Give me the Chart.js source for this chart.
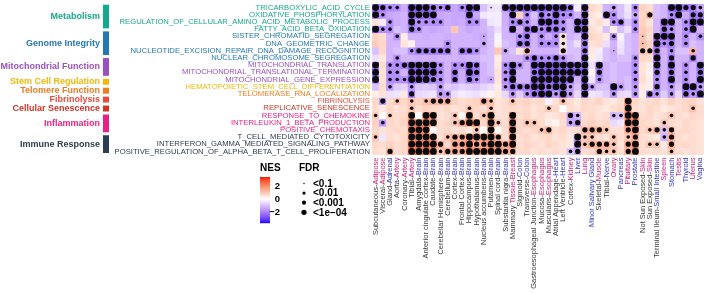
<!DOCTYPE html>
<html>
<head>
<meta charset="utf-8">
<script src="https://cdn.jsdelivr.net/npm/chart.js@4.4.1/dist/chart.umd.min.js"></script>
<style>
  html, body { margin: 0; padding: 0; background: #fff; }
</style>
</head>
<body>
<canvas id="heat" width="708" height="294"></canvas>
<script>
// tissue labels: grey prefix + coloured organ part
var tissuePrefix = ["Subcutaneous-","Visceral-","Gland-","Aorta-","Coronary-","Tibial-","Amygdala-","Anterior cingulate cortex-","Caudate-","Cerebellar Hemisphere-","Cerebellum-","Cortex-","Frontal Cortex-","Hippocampus-","Hypothalamus-","Nucleus accumbens-","Putamen-","Spinal cord-","Substantia nigra-","Mammary ","Sigmoid-","Transverse-","Gastroesophageal Junction-","Mucosa-","Muscularis-","Atrial Appendage-","Left Ventricle-","Cortex-","","","","Skeletal-","Tibial-","","","","","Not Sun Exposed-","Sun Exposed-","Terminal Ileum-","","","","","",""]
var tissueOrgan = ["Adipose","Adipose","Adrenal","Artery","Artery","Artery","Brain","Brain","Brain","Brain","Brain","Brain","Brain","Brain","Brain","Brain","Brain","Brain","Brain","Tissue-Breast","Colon","Colon","Esophagus","Esophagus","Esophagus","Heart","Heart","Kidney","Liver","Lung","Minor Salivary Gland","Muscle","Nerve","Ovary","Pancreas","Pituitary","Prostate","Skin","Skin","Small Intestine","Spleen","Stomach","Testis","Thyroid","Uterus","Vagina"]

var pathways = ["TRICARBOXYLIC_ACID_CYCLE","OXIDATIVE_PHOSPHORYLATION","REGULATION_OF_CELLULAR_AMINO_ACID_METABOLIC_PROCESS","FATTY_ACID_BETA_OXIDATION","SISTER_CHROMATID_SEGREGATION","DNA_GEOMETRIC_CHANGE","NUCLEOTIDE_EXCISION_REPAIR_DNA_DAMAGE_RECOGNITION","NUCLEAR_CHROMOSOME_SEGREGATION","MITOCHONDRIAL_TRANSLATION","MITOCHONDRIAL_TRANSLATIONAL_TERMINATION","MITOCHONDRIAL_GENE_EXPRESSION","HEMATOPOIETIC_STEM_CELL_DIFFERENTIATION","TELOMERASE_RNA_LOCALIZATION","FIBRINOLYSIS","REPLICATIVE_SENESCENCE","RESPONSE_TO_CHEMOKINE","INTERLEUKIN_1_BETA_PRODUCTION","POSITIVE_CHEMOTAXIS","T_CELL_MEDIATED_CYTOTOXICITY","INTERFERON_GAMMA_MEDIATED_SIGNALING_PATHWAY","POSITIVE_REGULATION_OF_ALPHA_BETA_T_CELL_PROLIFERATION"]
var pathwayGroup = [0,0,0,0,1,1,1,1,2,2,2,3,4,5,6,7,7,7,8,8,8]
var groupNames = ["Metabolism","Genome Integrity","Mitochondrial Function","Stem Cell Regulation","Telomere Function","Fibrinolysis","Cellular Senescence","Inflammation","Immune Response"]
var groupColors = ["#16a88f","#2479b3","#9b51bf","#f2b707","#ef7c1f","#ea4c3b","#cf3425","#ea1f87","#2c3e50"]

// NES, one row per pathway, one value per tissue
var nes = [
[-2.4,-2.1,-1.8,-1.8,-1.3,-2.5,-2.6,-2.5,-2.1,-1.8,-2.1,-1.4,-1.8,-2.4,-2.5,-1.0,-0.5,-0.4,-2.1,-2.4,-2.5,-2.6,-2.5,-2.6,-2.4,-2.5,-2.6,-2.1,-0.3,-2.4,0.7,0.5,-1.2,-1.4,-1.0,-0.4,-1.8,0.8,0.6,-1.0,-1.2,-2.4,-2.5,-2.1,-2.1,-1.4],
[-2.4,-1.8,-1.4,-1.3,-1.2,-2.4,-2.5,-2.4,-2.4,-1.4,-1.3,-1.4,-1.4,-2.4,-1.4,-0.4,-0.3,-0.3,-1.3,-2.1,0.8,-1.8,-1.0,-2.1,-1.8,-2.4,-1.8,-1.8,-1.2,-2.4,0.5,0.3,-2.1,-1.8,-1.0,-0.5,-1.4,0.7,1.3,-1.0,-1.2,-1.8,-2.4,-1.3,-2.1,-2.1],
[0.5,-0.3,-1.8,-1.3,-1.2,-2.4,-1.8,-1.8,-1.8,-1.8,-1.3,-1.4,-1.3,-1.8,-1.8,-1.2,-0.4,-0.3,-1.3,-1.8,-2.1,-1.8,-1.2,-2.5,-2.4,-2.1,-1.8,-1.2,-2.4,-2.5,0.4,0.6,0.3,-1.8,-2.1,-1.0,-1.8,0.8,0.5,-1.2,-2.4,-2.4,-1.2,-1.8,-2.5,-2.4],
[-2.4,-1.8,-1.8,-1.0,-1.2,-2.1,-1.8,-1.3,-1.4,-1.3,-1.2,1.0,-1.2,-1.4,-1.3,-1.2,-1.0,-0.5,-1.2,-2.4,-1.2,-2.1,-2.4,-1.8,-2.1,-2.1,-1.8,-1.2,-2.4,-2.4,0.6,0.4,-1.0,0.3,-1.0,-0.5,-1.8,0.9,0.7,-1.2,-2.1,-1.8,-1.2,-1.8,-2.4,-1.2],
[0.8,0.6,-1.2,-1.8,0.3,-1.2,-1.2,-1.3,-1.2,-1.2,-1.3,-1.2,-1.2,-1.2,-1.3,-1.4,-1.0,-0.2,-1.2,-1.2,-1.8,-2.1,-1.2,-1.8,-1.3,-1.8,0.5,-1.2,-1.0,-2.4,0.7,0.6,0.4,-1.8,-0.2,-1.0,-1.2,1.0,0.6,-2.4,-2.4,-2.4,-1.2,-1.8,-1.2,-1.8],
[0.9,0.7,-1.2,-1.2,0.5,0.2,-1.2,-1.2,-1.2,-1.2,-1.8,-1.2,-1.2,-1.2,-1.2,-1.4,-1.0,0.2,-1.0,-1.2,-2.1,-2.1,-1.2,-1.8,-1.8,-1.8,0.4,-1.0,-0.5,-2.1,0.5,0.6,-0.5,-1.2,-0.4,-1.0,-1.2,1.1,0.8,-2.4,-1.8,-2.1,-1.2,-1.8,-1.0,-1.2],
[-1.0,0.7,-1.2,-1.0,-1.0,-1.8,-2.1,-2.1,-2.1,-2.1,-2.1,-1.2,-2.1,-2.1,-1.8,-1.2,-1.0,1.0,-1.4,-1.0,0.5,1.2,-1.2,-1.2,-1.2,-1.2,0.6,-1.0,-1.0,-2.1,0.4,-0.3,-1.0,-1.3,-0.5,-1.0,-1.2,1.0,0.9,-2.1,-1.2,-1.8,-1.0,-1.0,1.3,-1.2],
[-0.5,0.4,-1.2,-1.8,-1.2,-1.2,-1.3,-1.2,-1.3,-1.2,-1.2,-1.2,-1.3,-1.2,-1.2,-1.0,-1.0,0.3,-1.2,-1.2,-1.2,-1.8,-2.1,-1.8,-1.8,-2.1,-1.8,-1.2,-1.0,-2.4,0.3,-0.4,-1.0,-1.2,-1.0,-1.0,-1.8,0.7,0.6,-2.4,-1.2,-2.1,-1.2,-1.2,-2.1,-1.2],
[-2.4,0.6,-1.8,-1.8,-2.1,-2.5,-2.6,-2.5,-2.5,-1.8,-1.2,-1.8,-1.8,-2.5,-2.1,-1.2,-1.0,0.4,-1.8,-2.5,-1.8,-1.2,-2.5,-2.6,-2.6,-2.6,-2.6,-2.5,-2.4,-2.5,-0.5,-2.4,-1.2,-1.0,-1.2,-1.2,-1.8,0.5,0.3,-2.4,-1.2,-2.5,-1.2,-1.8,-1.2,-2.4],
[-2.4,0.5,-1.8,-1.8,-1.2,-2.5,-2.5,-2.5,-2.4,-1.8,-1.2,-2.1,-1.3,-2.5,-2.1,-1.2,-1.0,0.5,-1.8,-2.4,-1.2,-1.2,-2.1,-2.6,-2.6,-2.6,-2.5,-2.5,-2.4,-2.5,0.2,-2.1,-1.2,-1.0,-1.2,-1.2,-1.8,0.5,0.2,-2.1,-1.2,-2.1,-1.2,-1.8,-1.2,-2.1],
[-2.4,0.5,-1.8,-1.8,-1.8,-2.5,-2.5,-2.4,-2.1,-1.8,-1.2,-2.1,-1.3,-2.1,-1.8,-1.2,-1.4,0.5,-1.8,-2.4,-1.2,-1.2,-2.4,-2.5,-2.5,-2.6,-2.5,-2.4,-1.2,-2.5,-0.4,-1.8,-1.2,-1.0,-1.2,-1.0,-1.8,0.6,0.3,-1.8,-1.2,-2.4,-1.2,-1.8,-1.2,-2.4],
[-1.0,0.6,-1.6,-0.8,-0.7,-1.6,-0.9,-0.8,-0.9,-1.6,-0.8,-0.9,-0.7,-0.8,-0.9,-0.7,-0.5,0.3,-1.6,-2.0,-2.0,-2.0,-2.4,-2.4,-2.1,-2.4,-2.4,-1.6,-1.0,-2.4,-1.6,-1.0,-1.0,-2.4,-1.6,-1.0,-1.6,0.4,0.3,-2.1,-1.2,-1.6,-1.0,-2.4,-2.4,-1.6],
[0.3,0.5,-0.5,-0.4,0.4,-2.0,-0.6,-0.5,-0.4,-1.6,-1.6,-0.5,-0.3,-0.4,-0.5,-0.3,0.2,0.4,-0.6,-1.6,-0.8,-1.6,-2.1,-2.4,-2.4,-1.6,-2.4,-1.6,-0.6,-2.4,-0.4,-0.5,-0.8,-1.6,-0.6,-0.5,-1.6,0.3,-2.0,-1.6,-0.8,-1.6,-0.6,-2.1,-1.6,-2.4],
[0.7,-1.5,0.6,1.0,0.7,1.0,0.8,1.1,1.3,1.3,1.3,0.8,0.6,0.7,0.8,1.3,1.1,0.5,0.6,1.0,0.7,0.8,0.6,0.7,-0.2,0.5,1.1,0.6,0.4,0.7,0.6,0.8,0.5,0.4,0.6,1.9,0.7,0.5,0.6,0.7,0.5,0.8,0.6,0.7,0.8,0.5],
[0.6,0.4,0.7,0.5,0.6,1.0,0.6,0.8,0.7,0.6,0.7,0.5,0.6,1.0,0.7,0.6,1.0,0.5,0.6,0.7,0.6,0.7,0.5,0.6,1.0,0.7,0.0,0.6,0.5,0.7,0.6,0.5,0.4,0.6,0.7,1.8,0.6,0.5,0.7,0.6,0.4,0.5,0.6,0.7,1.1,0.6],
[0.9,0.0,0.8,0.6,0.7,1.7,0.0,1.8,1.8,0.5,0.6,1.0,0.1,1.8,0.6,1.0,1.9,0.5,0.6,1.8,0.6,0.7,0.5,0.6,0.4,0.5,0.7,-1.5,-1.2,0.6,0.7,0.5,0.6,-1.1,-1.0,2.0,2.0,0.6,0.7,0.5,0.6,1.0,0.6,0.5,0.7,0.6],
[0.8,-1.6,0.7,0.6,0.8,2.0,2.6,2.2,2.0,0.6,0.7,1.0,1.4,2.0,1.9,0.7,2.0,1.0,0.6,1.9,0.7,1.0,1.0,0.6,0.3,0.2,0.6,-1.4,-1.6,0.7,0.8,0.6,0.7,-0.6,-0.4,2.0,2.0,0.7,0.6,0.5,1.0,0.6,0.5,0.7,0.6,0.5],
[0.7,0.5,0.6,0.7,0.6,2.1,2.3,2.1,0.1,0.6,0.7,0.5,0.6,0.4,0.9,0.0,1.9,0.1,0.6,1.9,0.7,0.6,0.7,1.0,1.3,0.6,0.7,0.5,0.6,1.3,1.3,1.3,1.0,0.5,0.6,1.4,1.9,0.7,1.0,1.3,-1.0,1.3,0.6,0.7,0.6,0.5],
[1.0,-0.4,0.6,0.5,0.7,2.0,2.3,2.2,2.0,0.6,1.0,1.4,1.4,1.9,1.8,1.8,2.0,1.4,0.6,1.9,0.6,0.7,0.5,0.6,0.7,0.5,0.6,0.4,-1.8,1.0,1.0,0.6,0.5,1.0,0.6,1.0,1.5,0.6,0.5,0.4,-1.2,1.4,0.6,0.5,0.6,0.5],
[0.7,0.6,0.8,0.6,0.7,2.1,2.4,2.3,2.1,1.5,0.7,1.5,1.5,2.0,1.6,1.6,2.0,1.9,1.5,2.0,0.6,0.7,0.6,0.5,0.7,0.6,0.5,0.4,-1.9,1.0,1.3,1.3,1.3,1.0,0.5,1.4,1.9,0.6,1.0,1.0,0.4,1.4,0.6,0.7,0.6,0.5],
[0.6,0.5,1.4,0.6,0.7,2.2,2.5,2.4,2.2,1.0,1.4,1.4,1.4,2.0,1.9,1.9,2.0,1.9,1.4,1.4,0.6,0.7,0.5,0.6,0.5,0.6,0.5,-1.0,-1.4,0.6,0.7,1.3,1.0,1.0,0.6,1.4,1.9,0.6,0.5,0.6,0.5,1.0,0.6,0.5,0.6,0.5]
]

// FDR class: 0 = n.s., 1 = <0.1, 2 = <0.01, 3 = <0.001, 4 = <1e-04
var fdr = [
[4,3,2,2,0,4,4,4,3,2,3,0,2,4,4,0,1,0,4,4,4,4,4,4,4,4,4,3,0,4,0,0,0,2,0,0,2,0,0,0,0,4,4,3,3,2],
[4,2,0,0,0,4,4,4,4,0,0,0,0,4,0,0,0,0,0,4,0,2,0,3,2,4,2,2,0,4,0,0,4,2,0,0,2,0,3,0,0,2,4,0,3,3],
[0,0,2,0,0,4,2,2,2,2,0,0,0,2,2,0,0,0,0,2,3,2,0,4,4,3,2,0,4,4,0,0,0,2,3,0,2,0,0,0,4,4,0,2,4,4],
[4,2,2,0,0,3,2,0,0,0,0,0,0,0,0,0,0,0,0,4,0,3,4,2,3,3,2,0,4,4,0,0,0,0,0,0,2,0,0,0,3,2,0,2,4,0],
[0,0,0,2,0,0,0,0,0,0,0,0,0,0,0,1,0,0,0,0,2,3,0,2,0,2,2,0,0,4,0,0,0,2,0,0,0,1,0,4,4,4,0,2,0,2],
[0,0,0,0,0,0,0,0,0,0,2,0,0,0,0,2,0,0,0,0,3,3,0,2,2,2,2,0,0,3,0,0,0,0,0,0,0,1,0,4,2,3,0,2,0,0],
[0,0,0,0,0,2,3,3,3,3,3,0,3,3,2,0,0,0,2,0,0,3,0,0,0,0,3,0,0,3,0,0,0,1,0,0,0,3,3,3,0,2,0,0,2,0],
[0,0,0,2,0,0,0,0,0,0,0,0,0,0,0,0,0,0,0,0,0,2,3,2,2,3,2,0,0,4,0,0,0,0,0,0,2,0,0,4,0,3,0,0,3,0],
[4,0,2,2,3,4,4,4,4,2,0,2,2,4,3,0,0,0,2,4,2,0,4,4,4,4,4,4,4,4,0,4,0,0,0,0,2,0,0,4,0,4,0,2,0,4],
[4,0,2,2,0,4,4,4,4,2,0,3,0,4,3,0,0,0,2,4,0,0,3,4,4,4,4,4,4,4,0,3,0,0,0,0,2,0,0,3,0,3,0,2,0,3],
[4,0,2,2,2,4,4,4,3,2,0,3,0,3,2,0,1,0,2,4,0,0,4,4,4,4,4,4,0,4,0,2,0,0,0,0,2,0,0,2,0,4,0,2,0,4],
[0,0,2,0,0,2,0,0,0,2,0,0,0,0,0,0,0,0,2,3,3,3,4,4,3,4,4,2,0,4,2,0,0,4,2,0,2,0,0,3,0,2,0,4,4,2],
[0,0,0,0,0,3,0,0,0,2,2,0,0,0,0,0,0,0,0,2,0,2,3,4,4,2,4,2,0,4,0,0,0,2,0,0,2,0,3,2,0,2,0,3,2,4],
[0,3,0,2,0,2,0,2,3,3,3,0,0,0,0,3,2,0,0,2,0,0,0,0,0,0,2,0,0,0,0,0,0,0,0,4,0,0,0,0,0,0,0,0,0,0],
[0,0,0,0,0,2,0,0,0,0,0,0,0,2,0,0,2,0,0,0,0,0,0,0,2,0,0,0,0,0,0,0,0,0,0,4,0,0,0,0,0,0,0,0,2,0],
[2,0,2,0,0,4,0,4,4,0,0,2,0,4,0,2,4,0,0,4,0,0,0,0,0,0,0,3,2,0,0,0,0,2,2,4,4,0,0,0,0,2,0,0,0,0],
[0,2,0,0,0,4,4,4,4,0,0,2,3,4,4,0,4,2,0,4,0,2,2,0,0,0,0,2,3,0,0,0,0,0,0,4,4,0,0,0,2,0,0,0,0,0],
[0,0,0,0,0,4,4,4,0,0,0,0,0,0,2,0,4,0,0,4,0,0,0,2,3,0,0,0,0,3,3,3,2,0,0,3,4,0,2,3,2,3,0,0,0,0],
[2,0,0,0,0,4,4,4,4,0,2,3,3,4,4,4,4,3,0,4,0,0,0,0,0,0,0,0,4,2,2,0,0,2,0,2,3,0,0,0,2,3,0,0,0,0],
[0,0,0,0,0,4,4,4,4,3,0,3,3,4,3,3,4,4,3,4,0,0,0,0,0,0,0,0,4,2,3,3,3,2,0,3,4,0,2,2,0,3,0,0,0,0],
[0,0,3,0,0,4,4,4,4,2,3,3,3,4,4,4,4,4,3,3,0,0,0,0,0,0,0,2,3,0,0,3,2,2,0,3,4,0,0,0,0,2,0,0,0,0]
]

var fdrLabels = ["<0.1", "<0.01", "<0.001", "<1e\u221204"]
var nesTicks = [2, 0, -2]
var nesMin = -3.7, nesMax = 3.4
var dotRadius = [0, 0.8, 1.8, 2.6, 3.4]

var tissueNames = tissuePrefix.map(function(p, i){ return p + tissueOrgan[i] })

// organ colours alternate magenta / blue each time the organ changes
var organColors = []
var flip = 0
tissueOrgan.forEach(function(o, i){
    if(i > 0 && o != tissueOrgan[i-1]) flip = 1 - flip
    organColors.push(flip ? "#3535c0" : "#cc1f7a")
})

// colour ramp blue - white - red, interpolated in LAB like colorRamp2
function toLab(c){
    function lin(v){ v = v/255; return v > 0.04045 ? Math.pow((v+0.055)/1.055, 2.4) : v/12.92 }
    var r = lin(c[0]), g = lin(c[1]), b = lin(c[2])
    var X = (r*0.4124 + g*0.3576 + b*0.1805)/0.95047
    var Y = r*0.2126 + g*0.7152 + b*0.0722
    var Z = (r*0.0193 + g*0.1192 + b*0.9505)/1.08883
    function f(t){ return t > 0.008856 ? Math.cbrt(t) : 7.787*t + 16/116 }
    return [116*f(Y)-16, 500*(f(X)-f(Y)), 200*(f(Y)-f(Z))]
}
function fromLab(l){
    var fy = (l[0]+16)/116, fx = fy + l[1]/500, fz = fy - l[2]/200
    function fi(t){ var t3 = t*t*t; return t3 > 0.008856 ? t3 : (t-16/116)/7.787 }
    var X = fi(fx)*0.95047, Y = fi(fy), Z = fi(fz)*1.08883
    var r = X*3.2406 - Y*1.5372 - Z*0.4986
    var g = -X*0.9689 + Y*1.8758 + Z*0.0415
    var b = X*0.0557 - Y*0.2040 + Z*1.0570
    function gam(v){ v = v > 0.0031308 ? 1.055*Math.pow(v, 1/2.4) - 0.055 : 12.92*v; return Math.round(Math.max(0, Math.min(1, v))*255) }
    return "rgb(" + gam(r) + "," + gam(g) + "," + gam(b) + ")"
}
var labWhite = toLab([255,255,255]), labRed = toLab([255,0,0]), labBlue = toLab([0,0,255])
function nesColor(v){
    var t, end
    if(v >= 0){ t = Math.min(v/nesMax, 1); end = labRed }
    else { t = Math.min(v/nesMin, 1); end = labBlue }
    return fromLab([0,1,2].map(function(k){ return labWhite[k] + (end[k]-labWhite[k])*t }))
}

// one floating-bar dataset per pathway row
var datasets = []
pathways.forEach(function(p, j){
    datasets.push({
        type: 'bar',
        label: p,
        data: tissueNames.map(function(){ return [j, j+1] }),
        backgroundColor: nes[j].map(nesColor),
        borderWidth: 0,
        grouped: false,
        barPercentage: 1,
        categoryPercentage: 1,
        yAxisID: 'y',
        order: 1
    })
})

var dots = []
fdr.forEach(function(row, j){
    row.forEach(function(f, i){
        if(f > 0) dots.push({x: tissueNames[i], y: j + 0.5, r: dotRadius[f]})
    })
})
datasets.push({
    type: 'bubble',
    label: 'FDR',
    data: dots,
    backgroundColor: '#0a0a0a',
    borderWidth: 0,
    yAxisID: 'y',
    order: 0
})

var FONT = '"Liberation Sans", Arial, sans-serif'

var decorations = {
    id: 'decorations',
    afterDraw: function(chart){
        var ctx = chart.ctx
        var xs = chart.scales.x, area = chart.chartArea
        ctx.save()

        // rotated tissue labels
        ctx.font = '7.5px ' + FONT
        ctx.textAlign = 'right'
        ctx.textBaseline = 'middle'
        tissueNames.forEach(function(name, i){
            var x = xs.getPixelForValue(i)
            ctx.save()
            ctx.translate(x, area.bottom + 2.5)
            ctx.rotate(-Math.PI/2)
            ctx.fillStyle = organColors[i]
            ctx.fillText(tissueOrgan[i], 0, 0)
            var w = ctx.measureText(tissueOrgan[i]).width
            ctx.fillStyle = '#3a3a3a'
            ctx.fillText(tissuePrefix[i], -w, 0)
            ctx.restore()
        })

        // category annotation: its own column, groups split by a small gap
        var gap = 3
        var annTop = area.top + 0.7, annBot = area.bottom - 2
        var unit = (annBot - annTop - gap*(groupNames.length - 1))/pathways.length
        var yCursor = annTop
        groupNames.forEach(function(name, g){
            var n = pathwayGroup.filter(function(pg){ return pg == g }).length
            var top = yCursor, bot = yCursor + n*unit
            ctx.fillStyle = groupColors[g]
            ctx.fillRect(103, top, 6, bot - top)
            ctx.font = 'bold 9px ' + FONT
            ctx.textAlign = 'right'
            ctx.textBaseline = 'middle'
            ctx.fillText(name, 100, (top + bot)/2)
            yCursor = bot + gap
        })

        // NES legend
        ctx.fillStyle = '#000'
        ctx.font = 'bold 10px ' + FONT
        ctx.textAlign = 'left'
        ctx.fillText('NES', 260, 168.5)
        var gTop = 177, gBot = 223
        for(var py = gTop; py < gBot; py++){
            var v = nesMax - (py + 0.5 - gTop)/(gBot - gTop)*(nesMax - nesMin)
            ctx.fillStyle = nesColor(v)
            ctx.fillRect(260, py, 10, 1.2)
        }
        ctx.fillStyle = '#000'
        ctx.font = 'bold 9.5px ' + FONT
        ctx.textAlign = 'right'
        nesTicks.forEach(function(t){
            var y = gTop + (nesMax - t)/(nesMax - nesMin)*(gBot - gTop)
            ctx.fillText(t < 0 ? '\u2212' + (-t) : String(t), 280, y)
        })

        // FDR legend
        ctx.textAlign = 'left'
        ctx.font = 'bold 10px ' + FONT
        ctx.fillText('FDR', 299, 168.5)
        var legR = [0.7, 1.6, 2.1, 2.6]
        fdrLabels.forEach(function(lab, k){
            var y = 183.5 + k*9.6
            ctx.beginPath()
            ctx.arc(304, y, legR[k], 0, Math.PI*2)
            ctx.fill()
            ctx.fillText(lab, 313, y + 0.5)
        })
        ctx.restore()
    }
}

var chart = new Chart(document.getElementById('heat').getContext('2d'), {
    type: 'bar',
    data: { labels: tissueNames, datasets: datasets },
    plugins: [decorations],
    options: {
        responsive: false,
        animation: false,
        layout: { padding: { left: 0, top: 1, right: 2, bottom: 139 } },
        plugins: { legend: { display: false }, tooltip: { enabled: false } },
        scales: {
            x: { type: 'category', display: false, offset: true },
            y: { type: 'linear', display: false, min: 0, max: 21, reverse: true },
            yl: {
                type: 'category',
                labels: pathways,
                position: 'left',
                offset: true,
                grid: { display: false, drawTicks: false },
                border: { display: false },
                ticks: {
                    autoSkip: false,
                    padding: 2,
                    font: { family: FONT, size: 7.7 },
                    color: function(c){ return groupColors[pathwayGroup[c.index]] }
                },
                afterFit: function(s){
                    s.width = 372
                    s.paddingTop = 0
                    s.paddingBottom = 0
                }
            }
        }
    }
})
</script>
</body>
</html>
